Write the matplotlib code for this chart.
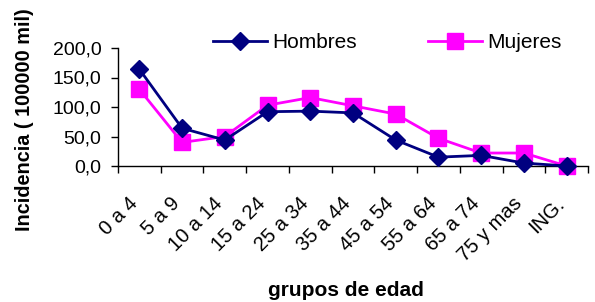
import matplotlib
matplotlib.use("Agg")
import matplotlib.pyplot as plt
import matplotlib.transforms as mtransforms
import numpy as np

categories = ["0 a 4", "5 a 9", "10 a 14", "15 a 24", "25 a 34", "35 a 44",
              "45 a 54", "55 a 64", "65 a 74", "75 y mas", "ING."]
hombres = [164, 64, 44, 92, 93, 90, 44, 15, 18, 5, 0]
mujeres = [130, 40, 50, 103, 116, 102, 88, 47, 22, 22, 0]
yticks = [0, 50, 100, 150, 200]
ytick_labels = ["0,0", "50,0", "100,0", "150,0", "200,0"]

plt.rcParams['font.family'] = ['Liberation Sans', 'DejaVu Sans']

fig = plt.figure(figsize=(5.95, 3.02), dpi=100)
ax = fig.add_axes([118/595, 1-166/302, (588-118)/595, (166-48)/302])

x = np.arange(len(categories))
ax.plot(x, hombres, color='#000080', marker='D', markersize=9.5, linewidth=2,
        label='Hombres', zorder=3)
ax.plot(x, mujeres, color='#FF00FF', marker='s', markersize=11, linewidth=2,
        label='Mujeres', zorder=2)

ax.set_xlim(-0.5, len(categories) - 0.5)
ax.set_ylim(0, 200)
ax.set_yticks(yticks)
ax.set_yticklabels(ytick_labels, fontsize=14)
ax.set_xticks(x)
ax.set_xticklabels(categories, rotation=45, ha='right', va='center',
                   rotation_mode='anchor', fontsize=14.5)
ax.tick_params(axis='x', which='major', length=0, pad=25)
offset = mtransforms.ScaledTranslation(-5/100, 0, fig.dpi_scale_trans)
for lab in ax.get_xticklabels():
    lab.set_transform(lab.get_transform() + offset)
ax.set_xticks(np.arange(-0.5, len(categories)), minor=True)
ax.tick_params(axis='x', which='minor', length=5, direction='out', width=1)
ax.tick_params(axis='y', length=5, width=1, direction='out', pad=7)

for s in ['top', 'right']:
    ax.spines[s].set_visible(False)
for s in ['left', 'bottom']:
    ax.spines[s].set_linewidth(1)
for line in ax.lines:
    line.set_clip_on(False)

fig.text(25/595, 1-120/302, "Incidencia ( 100000 mil)", rotation=90, fontsize=14.3,
         fontweight='bold', ha='center', va='center')
fig.text(346/595, 1-290/302, "grupos de edad", fontsize=15, fontweight='bold',
         ha='center', va='center')

fig.legend(loc='center', bbox_to_anchor=(387/595, 1-43/302), ncol=2, frameon=False,
           fontsize=15, handlelength=2.6, handletextpad=0.25, columnspacing=3.4,
           borderpad=0)

fig.savefig("out.png", dpi=100)
